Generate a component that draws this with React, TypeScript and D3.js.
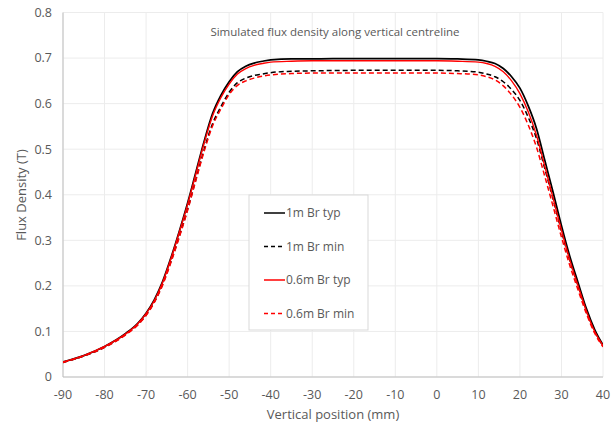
import React, { useEffect } from 'react'
import { scaleLinear, line, curveMonotoneX, range } from 'd3'

// x positions (mm) shared by all four series
const positions = [-90, -85, -80, -75, -72, -70, -68, -66, -64, -62, -60, -58, -56, -54, -52, -50, -48, -46, -44, -42, -40, -35, -30, -20, -10, 0, 5, 10, 12, 14, 16, 18, 20, 22, 24, 26, 28, 30, 32, 34, 36, 38, 40]

const typ1m = [0.033, 0.047, 0.067, 0.095, 0.118, 0.140, 0.170, 0.210, 0.262, 0.320, 0.382, 0.450, 0.518, 0.578, 0.618, 0.648, 0.670, 0.682, 0.689, 0.693, 0.696, 0.698, 0.698, 0.699, 0.699, 0.699, 0.698, 0.696, 0.693, 0.688, 0.677, 0.659, 0.634, 0.595, 0.545, 0.475, 0.405, 0.332, 0.265, 0.207, 0.150, 0.104, 0.070]
const min1m = [0.032, 0.046, 0.065, 0.093, 0.115, 0.136, 0.165, 0.204, 0.254, 0.309, 0.368, 0.434, 0.500, 0.556, 0.593, 0.625, 0.646, 0.656, 0.662, 0.665, 0.668, 0.671, 0.672, 0.673, 0.673, 0.673, 0.672, 0.669, 0.665, 0.659, 0.648, 0.631, 0.607, 0.570, 0.523, 0.457, 0.390, 0.320, 0.256, 0.200, 0.145, 0.101, 0.068]
const typ06m = [0.033, 0.047, 0.067, 0.094, 0.117, 0.139, 0.168, 0.208, 0.260, 0.318, 0.379, 0.446, 0.514, 0.573, 0.613, 0.643, 0.665, 0.677, 0.684, 0.688, 0.691, 0.693, 0.694, 0.694, 0.694, 0.694, 0.693, 0.691, 0.688, 0.682, 0.670, 0.650, 0.622, 0.582, 0.530, 0.462, 0.392, 0.322, 0.257, 0.200, 0.145, 0.100, 0.069]
const min06m = [0.032, 0.046, 0.065, 0.092, 0.114, 0.135, 0.164, 0.202, 0.252, 0.307, 0.366, 0.432, 0.496, 0.551, 0.588, 0.620, 0.640, 0.650, 0.656, 0.660, 0.663, 0.666, 0.667, 0.667, 0.667, 0.667, 0.666, 0.663, 0.659, 0.652, 0.639, 0.619, 0.592, 0.553, 0.504, 0.440, 0.374, 0.307, 0.245, 0.191, 0.139, 0.096, 0.066]

const seriesNames = ['1m Br typ', '1m Br min', '0.6m Br typ', '0.6m Br min']
const seriesValues = [typ1m, min1m, typ06m, min06m]
const seriesColors = ['#000000', '#000000', '#ff0000', '#ff0000']
const seriesDashed = [false, true, false, true]

const xTicks = range(-90, 41, 10)
const yTicks = [0, 0.1, 0.2, 0.3, 0.4, 0.5, 0.6, 0.7, 0.8]

const font = '"Open Sans", sans-serif'
const textColor = '#595959'

const App = () => {
    useEffect(() => {
        document.body.style.margin = '0'
    }, [])

    const x = scaleLinear().domain([-90, 40]).range([63, 603])
    const y = scaleLinear().domain([0, 0.8]).range([377, 12.5])

    const makeLine = (vals: number[]) =>
        line<number>()
            .x((d, i) => x(positions[i]))
            .y(d => y(d))
            .curve(curveMonotoneX)(vals)

    return (
        <svg width={615} height={425} style={{ display: 'block', background: '#fff' }}>
            {/* gridlines */}
            {yTicks.map(t => (
                <line key={'gy' + t} x1={x(-90)} x2={x(40)} y1={y(t)} y2={y(t)} stroke="#ececec" strokeWidth={1} />
            ))}
            {xTicks.map(t => (
                <line key={'gx' + t} x1={x(t)} x2={x(t)} y1={y(0)} y2={y(0.8)} stroke="#ececec" strokeWidth={1} />
            ))}
            {/* axes */}
            <line x1={x(-90)} x2={x(-90)} y1={y(0)} y2={y(0.8)} stroke="#bfbfbf" strokeWidth={1} />
            <line x1={x(-90)} x2={x(40)} y1={y(0)} y2={y(0)} stroke="#bfbfbf" strokeWidth={1} />

            {yTicks.map(t => (
                <text key={'ty' + t} x={52} y={y(t)} dy="0.35em" textAnchor="end" fontSize={12.5} fontFamily={font} fill={textColor}>
                    {t === 0 ? '0' : t.toFixed(1)}
                </text>
            ))}
            {xTicks.map(t => (
                <text key={'tx' + t} x={x(t)} y={395} dy="0.35em" textAnchor="middle" fontSize={12.5} fontFamily={font} fill={textColor}>
                    {t}
                </text>
            ))}

            <text x={333} y={414} dy="0.35em" textAnchor="middle" fontSize={13} fontFamily={font} fill={textColor}>
                Vertical position (mm)
            </text>
            <text transform="translate(21,195) rotate(-90)" dy="0.35em" textAnchor="middle" fontSize={13} fontFamily={font} fill={textColor}>
                Flux Density (T)
            </text>
            <text x={335} y={32} dy="0.35em" textAnchor="middle" fontSize={11.5} fontFamily={font} fill={textColor}>
                Simulated flux density along vertical centreline
            </text>

            {/* series */}
            <g clipPath="url(#plotClip)">
                {seriesValues.map((vals, i) => (
                    <path
                        key={seriesNames[i]}
                        d={makeLine(vals) || ''}
                        fill="none"
                        stroke={seriesColors[i]}
                        strokeWidth={seriesDashed[i] ? 1.5 : (seriesColors[i] === '#000000' ? 1.75 : 1.4)}
                        strokeDasharray={seriesDashed[i] ? '5,3' : undefined}
                    />
                ))}
            </g>
            <defs>
                <clipPath id="plotClip">
                    <rect x={x(-90)} y={y(0.8)} width={x(40) - x(-90)} height={y(0) - y(0.8)} />
                </clipPath>
            </defs>

            {/* legend */}
            <g transform="translate(249,195)">
                <rect x={0} y={0} width={119} height={135} fill="#fff" stroke="#d9d9d9" strokeWidth={1} />
                {seriesNames.map((name, i) => (
                    <g key={name} transform={`translate(0,${18 + i * 33.5})`}>
                        <line x1={15} x2={36} y1={0} y2={0} stroke={seriesColors[i]} strokeWidth={1.5}
                            strokeDasharray={seriesDashed[i] ? '4,3' : undefined} />
                        <text x={37} y={0} dy="0.35em" fontSize={12} fontFamily={font} fill={textColor}>{name}</text>
                    </g>
                ))}
            </g>
        </svg>
    )
}

export default App
